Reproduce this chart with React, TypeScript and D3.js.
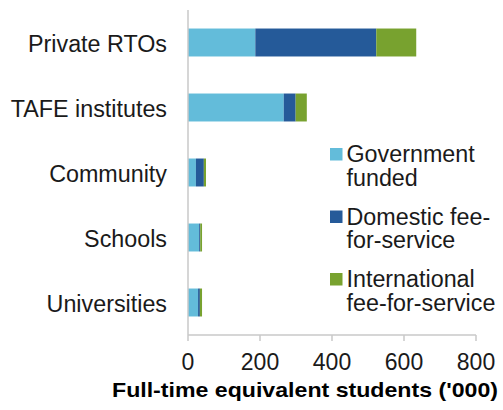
import React from "react";
import * as d3 from "d3";

const categories = ["Private RTOs", "TAFE institutes", "Community", "Schools", "Universities"];
const governmentFunded = [187, 266, 22, 31, 28];
const domesticFee = [336, 33, 22, 3, 5];
const internationalFee = [111, 31, 6, 5, 6];
const seriesNames = ["Government funded", "Domestic fee-for-service", "International fee-for-service"];
const legendLines = [["Government", "funded"], ["Domestic fee-", "for-service"], ["International", "fee-for-service"]];
const xTicks = [0, 200, 400, 600, 800];
const colors = ["#63BCDA", "#255A99", "#78A22F"];

export default function App() {
  const W = 503, H = 410;
  const x = d3.scaleLinear().domain([0, 800]).range([188, 476]);
  const y = d3.scaleBand().domain(categories).range([10, 335]).paddingInner(0.57).paddingOuter(0.285);
  const table = categories.map((c, i) => ({
    cat: c,
    [seriesNames[0]]: governmentFunded[i],
    [seriesNames[1]]: domesticFee[i],
    [seriesNames[2]]: internationalFee[i],
  }));
  const stacked = d3.stack<any>().keys(seriesNames)(table);
  const font = "Arial, 'Liberation Sans', sans-serif";
  return (
    <svg width={W} height={H} style={{ position: "absolute", left: 0, top: 0 }} fontFamily={font}>
      <rect width={W} height={H} fill="#fff" />
      {stacked.map((s, si) =>
        s.map((d, i) => (
          <rect
            key={`${si}-${i}`}
            x={x(d[0])}
            width={Math.max(0, x(d[1]) - x(d[0]))}
            y={y(categories[i])!}
            height={y.bandwidth()}
            fill={colors[si]}
          />
        ))
      )}
      <line x1={188} x2={188} y1={10} y2={335} stroke="#c8c8c8" strokeWidth={1.5} />
      <line x1={188} x2={476} y1={335} y2={335} stroke="#c8c8c8" strokeWidth={1.5} />
      {xTicks.map((t) => (
        <g key={t}>
          <line x1={x(t)} x2={x(t)} y1={335} y2={341} stroke="#c8c8c8" strokeWidth={1.5} />
          <text x={x(t)} y={370} textAnchor="middle" fontSize={23} fill="#1a1a1a">{t}</text>
        </g>
      ))}
      {categories.map((c) => (
        <text key={c} x={167} y={y(c)! + y.bandwidth() / 2 + 9} textAnchor="end" fontSize={23.3} fill="#1a1a1a">{c}</text>
      ))}
      {legendLines.map((lines, i) => (
        <g key={i}>
          <rect x={330} y={148 + i * 62.5} width={12.5} height={12.5} fill={colors[i]} />
          {lines.map((l, j) => (
            <text key={j} x={346.5} y={162 + i * 62.5 + j * 23.5} fontSize={23.3} fill="#1a1a1a">{l}</text>
          ))}
        </g>
      ))}
      <text x={305} y={397} textAnchor="middle" fontSize={21} fontWeight="bold" fill="#000" textLength={386} lengthAdjust="spacingAndGlyphs">Full-time equivalent students ('000)</text>
    </svg>
  );
}
